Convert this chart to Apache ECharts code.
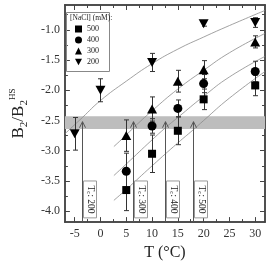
<!DOCTYPE html>
<html><head><meta charset="utf-8">
<script src="https://cdn.jsdelivr.net/npm/echarts@6/dist/echarts.min.js"></script>
<style>html,body{margin:0;padding:0;background:#fff}#c{width:273px;height:266px}</style>
</head><body><div id="c"></div>
<script>
// ---- data ----
const xMajorTicks = [-5, 0, 5, 10, 15, 20, 25, 30];
const xTickLabels = ['-5', '0', '5', '10', '15', '20', '25', '30'];
const xMinorTicks = [-2.5, 2.5, 7.5, 12.5, 17.5, 22.5, 27.5];
const yMajorTicks = [-4.0, -3.5, -3.0, -2.5, -2.0, -1.5, -1.0];
const yTickLabels = ['-4.0', '-3.5', '-3.0', '-2.5', '-2.0', '-1.5', '-1.0'];
const yMinorTicks = [-3.75, -3.25, -2.75, -2.25, -1.75, -1.25, -0.75];
const seriesNames = ['500', '400', '300', '200'];

const t500 = [5, 10, 15, 20, 30];
const b500 = [-3.65, -3.05, -2.67, -2.15, -1.92];
const e500 = [0.34, 0.31, 0.23, 0.17, 0.17];
const t400 = [5, 10, 15, 20, 30];
const b400 = [-3.34, -2.59, -2.30, -1.89, -1.69];
const e400 = [0.30, 0.12, 0.14, 0.15, 0.17];
const t300 = [5, 10, 15, 20, 30];
const b300 = [-2.75, -2.31, -1.85, -1.66, -1.20];
const e300 = [0.26, 0.20, 0.18, 0.15, 0.10];
const t200 = [-5, 0, 10, 20, 30];
const b200 = [-2.72, -2.00, -1.54, -0.90, -0.88];
const e200 = [0.27, 0.19, 0.15, 0.04, 0.08];

// fitted curves
const fit500T = [2.6, 5, 10, 15, 17.9, 20, 25, 31.9];
const fit500B = [-3.82, -3.64, -3.25, -2.87, -2.66, -2.50, -2.13, -1.69];
const fit400T = [2.6, 5, 10, 12.6, 15, 20, 25, 31.9];
const fit400B = [-3.41, -3.22, -2.82, -2.62, -2.45, -2.10, -1.78, -1.44];
const fit300T = [2.6, 5, 6.4, 10, 15, 20, 25, 31.9];
const fit300B = [-2.93, -2.74, -2.62, -2.34, -1.98, -1.67, -1.38, -1.06];
const fit200T = [-6.9, -3.5, 0, 5, 10, 15, 20, 25, 31.9];
const fit200B = [-2.72, -2.45, -2.17, -1.85, -1.56, -1.32, -1.12, -0.93, -0.68];

// critical temperatures (arrows)
const tcT = [-3.5, 6.4, 12.6, 17.9];
const tcNames = ['200', '300', '400', '500'];
const tcArrowTop = -2.52;
const band = [-2.64, -2.43];

// ---- chart ----
const X_MIN = -6.9, X_MAX = 31.9, Y_MIN = -4.18, Y_MAX = -0.59;
const FONT = 'Liberation Serif';
const AXC = '#444';

function lookup(ticks, labels, v) {
  const n = Number(v);
  for (let i = 0; i < ticks.length; i++) if (Math.abs(ticks[i] - n) < 1e-6) return labels[i];
  return '';
}
function xAxisDef(pos, ticks, len, labels, extra) {
  return Object.assign({
    type: 'value', min: X_MIN, max: X_MAX, position: pos,
    axisLine: { show: true, onZero: false, lineStyle: { color: AXC, width: 1.5 } },
    axisTick: { show: true, inside: true, length: len, customValues: ticks, lineStyle: { color: AXC, width: 1 } },
    axisLabel: labels ? { show: true, customValues: ticks, margin: 6, fontFamily: FONT, fontSize: 12, color: '#333',
      formatter: v => lookup(xMajorTicks, xTickLabels, v) } : { show: false },
    splitLine: { show: false }
  }, extra || {});
}
function yAxisDef(pos, ticks, len, labels, extra) {
  return Object.assign({
    type: 'value', min: Y_MIN, max: Y_MAX, position: pos,
    axisLine: { show: true, onZero: false, lineStyle: { color: AXC, width: 1.5 } },
    axisTick: { show: true, inside: true, length: len, customValues: ticks, lineStyle: { color: AXC, width: 1 } },
    axisLabel: labels ? { show: true, customValues: ticks, margin: 5, fontFamily: FONT, fontSize: 12, color: '#333',
      formatter: v => lookup(yMajorTicks, yTickLabels, v) } : { show: false },
    splitLine: { show: false }
  }, extra || {});
}

function zip(a, b) { return a.map((v, i) => [v, b[i]]); }
function errData(t, b, e) { return t.map((v, i) => [v, b[i] - e[i], b[i] + e[i]]); }

const DOWN_TRI = 'path://M0,0L10,0L5,9Z';
const markerDefs = {
  '500': { symbol: 'rect', size: 8, t: t500, b: b500, e: e500, fitT: fit500T, fitB: fit500B },
  '400': { symbol: 'circle', size: 9, t: t400, b: b400, e: e400, fitT: fit400T, fitB: fit400B },
  '300': { symbol: 'triangle', size: [10, 9], t: t300, b: b300, e: e300, fitT: fit300T, fitB: fit300B },
  '200': { symbol: DOWN_TRI, size: [10, 9], t: t200, b: b200, e: e200, fitT: fit200T, fitB: fit200B }
};

const series = [];
// grey band
series.push({
  type: 'line', data: [], z: 1, silent: true,
  markArea: { silent: true, itemStyle: { color: '#bdbdbd' }, data: [[{ yAxis: band[0] }, { yAxis: band[1] }]] }
});
// fitted curves
seriesNames.forEach(n => {
  const d = markerDefs[n];
  series.push({ type: 'line', data: zip(d.fitT, d.fitB), smooth: true, symbol: 'none', z: 2, silent: true,
    lineStyle: { color: '#8a8a8a', width: 0.8 } });
});
// Tc arrows and labels
series.push({
  type: 'custom', z: 3, silent: true,
  data: tcT.map((t, i) => [t, tcArrowTop, i]),
  encode: { x: 0, y: 1 },
  renderItem: (params, api) => {
    const x = api.value(0), top = api.value(1), i = api.value(2);
    const pt = api.coord([x, top]);
    const pb = api.coord([x, Y_MIN]);
    const bt = api.coord([x, -3.5])[1], bb = api.coord([x, -4.11])[1];
    const px = Math.round(pt[0]) + 0.5;
    return { type: 'group', children: [
      { type: 'line', shape: { x1: px, y1: pb[1], x2: px, y2: pt[1] }, style: { stroke: '#555', lineWidth: 1 } },
      { type: 'polyline', shape: { points: [[px - 3, pt[1] + 6], [px, pt[1]], [px + 3, pt[1] + 6]] }, style: { stroke: '#555', fill: null, lineWidth: 1 } },
      { type: 'rect', shape: { x: px + 1, y: bt, width: 13, height: bb - bt }, style: { stroke: '#9a9a9a', fill: '#fff', lineWidth: 1 } },
      { type: 'text', x: px + 8, y: (bt + bb) / 2, rotation: -Math.PI / 2,
        style: { text: '{a|T}{s|c}{a|: ' + tcNames[i] + '}', align: 'center', verticalAlign: 'middle', fill: '#222',
          rich: { a: { fontFamily: FONT, fontSize: 9.5, lineHeight: 11, fill: '#222' },
                  s: { fontFamily: FONT, fontSize: 6.5, lineHeight: 6, verticalAlign: 'bottom', fill: '#222' } } } }
    ] };
  }
});
// error bars
seriesNames.forEach(n => {
  const d = markerDefs[n];
  series.push({
    type: 'custom', z: 4, silent: true, data: errData(d.t, d.b, d.e), encode: { x: 0, y: [1, 2] },
    renderItem: (params, api) => {
      const x = api.value(0);
      const lo = api.coord([x, api.value(1)]), hi = api.coord([x, api.value(2)]);
      const px = Math.round(lo[0]) + 0.5, w = 2.5;
      const st = { stroke: '#333', lineWidth: 1 };
      return { type: 'group', children: [
        { type: 'line', shape: { x1: px, y1: lo[1], x2: px, y2: hi[1] }, style: st },
        { type: 'line', shape: { x1: px - w, y1: lo[1], x2: px + w, y2: lo[1] }, style: st },
        { type: 'line', shape: { x1: px - w, y1: hi[1], x2: px + w, y2: hi[1] }, style: st }
      ] };
    }
  });
});
// markers
seriesNames.forEach(n => {
  const d = markerDefs[n];
  series.push({ name: n, type: 'scatter', data: zip(d.t, d.b), z: 5,
    symbol: d.symbol, symbolSize: d.size, itemStyle: { color: '#000', opacity: 1 } });
});

const chart = echarts.init(document.getElementById('c'), null, { renderer: 'canvas' });
chart.setOption({
  animation: false,
  backgroundColor: '#fff',
  grid: { left: 60, right: 8, top: 5, bottom: 42, containLabel: false },
  xAxis: [
    xAxisDef('bottom', xMajorTicks, 5, true, { name: 'T (°C)', nameLocation: 'middle', nameGap: 21,
      nameTextStyle: { fontFamily: FONT, fontSize: 16, color: '#222' } }),
    xAxisDef('bottom', xMinorTicks, 3, false),
    xAxisDef('top', xMajorTicks, 5, false),
    xAxisDef('top', xMinorTicks, 3, false)
  ],
  yAxis: [
    yAxisDef('left', yMajorTicks, 5, true, {
      name: '{a|B}{s|2}{a|/B}{s|2}{p|HS}', nameLocation: 'middle', nameGap: 30,
      nameTextStyle: { color: '#222', rich: {
        a: { fontFamily: FONT, fontSize: 17, lineHeight: 22, color: '#222' },
        s: { fontFamily: FONT, fontSize: 11, lineHeight: 11, verticalAlign: 'bottom', color: '#222' },
        p: { fontFamily: FONT, fontSize: 9, lineHeight: 11, verticalAlign: 'top', color: '#222' } } }
    }),
    yAxisDef('left', yMinorTicks, 3, false),
    yAxisDef('right', yMajorTicks, 5, false),
    yAxisDef('right', yMinorTicks, 3, false)
  ],
  legend: {
    data: seriesNames.map(n => ({ name: n, icon: markerDefs[n].symbol })),
    orient: 'vertical', left: 75, top: 25, itemWidth: 7, itemHeight: 7, itemGap: 3, padding: 0, selectedMode: false,
    textStyle: { fontFamily: FONT, fontSize: 8, color: '#222' }
  },
  graphic: [
    { type: 'rect', left: 66, top: 12, shape: { width: 43, height: 59 }, style: { stroke: '#888', fill: 'rgba(0,0,0,0)', lineWidth: 1 }, z: 10 },
    { type: 'text', left: 70, top: 14, style: { text: '[NaCl] (mM):', fontFamily: FONT, fontSize: 7.5, fill: '#222' }, z: 10 }
  ],
  series: series
});
</script>
</body></html>
